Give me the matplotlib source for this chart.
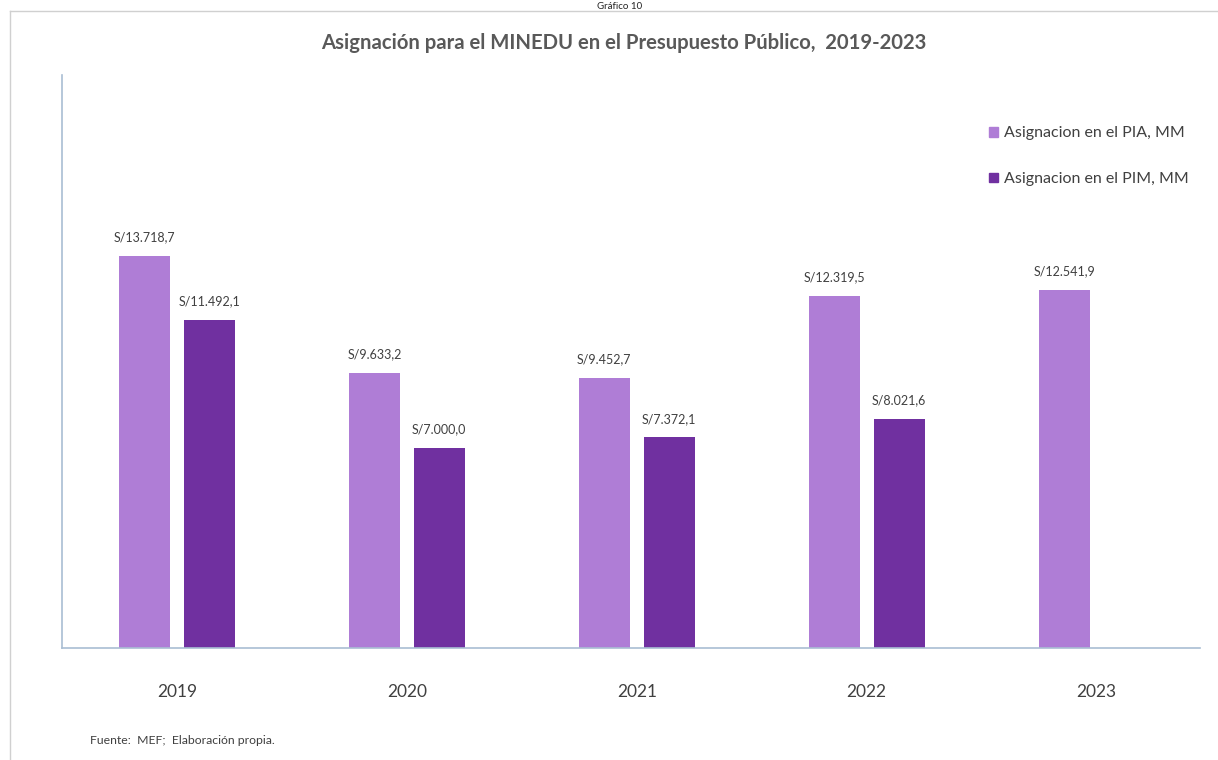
import numpy as np
import matplotlib
matplotlib.use('Agg')
import matplotlib.pyplot as plt
from matplotlib.lines import Line2D
from matplotlib.patches import Patch

"""Asignacion presupuestal al MINEDU, PIA vs PIM, 2019-2023"""

years = ['2019', '2020', '2021', '2022', '2023']
pia = [13718.7, 9633.2, 9452.7, 12319.5, 12541.9]
pim = [11492.1, 7000.0, 7372.1, 8021.6, np.nan]
series_names = ['Asignacion en el PIA, MM', 'Asignacion en el PIM, MM']

PIA_COLOR = '#AF7DD6'
PIM_COLOR = '#7030A0'
TEXT_COLOR = '#404040'


def fmt_soles(v: float) -> str:
    s = f'{v:,.1f}'
    s = s.replace(',', '#').replace('.', ',').replace('#', '.')
    return f'S/{s}'


plt.rcParams['font.family'] = ['Lato', 'DejaVu Sans']

fig = plt.figure(figsize=(12.18, 7.60), dpi=100)
ax = fig.add_axes([62 / 1218, 112 / 760, 1138 / 1218, 573 / 760])

x = np.arange(len(years))
width = 0.222
offset = 0.141

bars_pia = ax.bar(x - offset, pia, width, color=PIA_COLOR, label=series_names[0])
bars_pim = ax.bar(x + offset, pim, width, color=PIM_COLOR, label=series_names[1])

for bars, vals in ((bars_pia, pia), (bars_pim, pim)):
    for b, v in zip(bars, vals):
        if np.isnan(v):
            continue
        ax.annotate(fmt_soles(v), (b.get_x() + b.get_width() / 2, v),
                    xytext=(0, 9), textcoords='offset points',
                    ha='center', va='bottom', fontsize=9, color=TEXT_COLOR)

ax.set_xlim(-0.5, 4.45)
ax.set_ylim(0, 20050)
ax.set_xticks(x)
ax.set_xticklabels(years, fontsize=12.5, color=TEXT_COLOR)
ax.tick_params(axis='x', length=0, pad=26)
ax.set_yticks([])
for side in ('top', 'right'):
    ax.spines[side].set_visible(False)
for side in ('left', 'bottom'):
    ax.spines[side].set_color('#A9BED3')
    ax.spines[side].set_linewidth(1.2)

handles = [Patch(color=PIA_COLOR), Patch(color=PIM_COLOR)]
fig.legend(handles, series_names, loc='upper left', bbox_to_anchor=(975 / 1218, 1 - 112 / 760),
           frameon=False, fontsize=11.5, labelcolor=TEXT_COLOR,
           handlelength=0.55, handleheight=0.55, handletextpad=0.35, labelspacing=2.0)

fig.text(624 / 1218, 1 - 43 / 760, 'Asignación para el MINEDU en el Presupuesto Público,  2019-2023',
         ha='center', va='center', fontsize=14.6, fontweight='bold', color='#595959')
fig.text(620 / 1218, 1 - 9 / 760, 'Gráfico 10', ha='center', va='baseline', fontsize=7, color='#222222')
fig.text(90 / 1218, 1 - 740 / 760, 'Fuente:  MEF;  Elaboración propia.', ha='left', va='center',
         fontsize=8.8, color=TEXT_COLOR)

# marco gris del recuadro
fig.add_artist(Line2D([10 / 1218, 1], [1 - 11 / 760, 1 - 11 / 760], color='#D0D0D0', lw=1))
fig.add_artist(Line2D([10 / 1218, 10 / 1218], [0, 1 - 11 / 760], color='#D0D0D0', lw=1))

fig.savefig('out.png', dpi=100, facecolor='white')
